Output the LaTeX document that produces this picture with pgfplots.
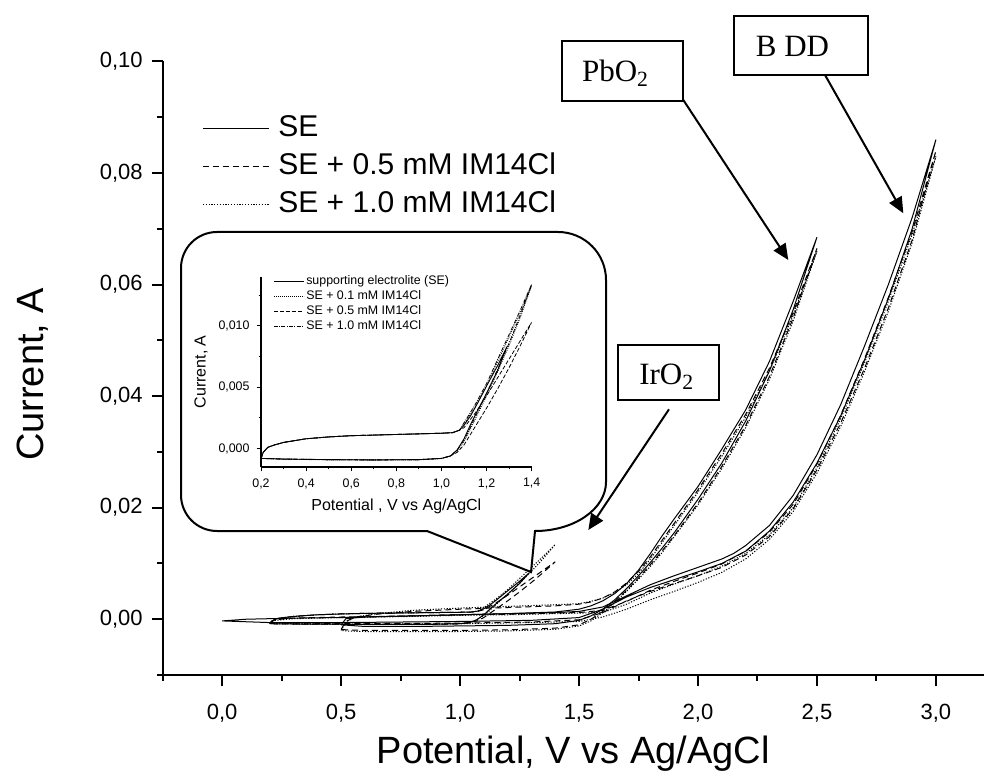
\documentclass[border=0pt]{standalone}
\usepackage{fontspec}
\setmainfont{Liberation Sans}
\newfontfamily\tnr{Liberation Serif}
\usepackage{pgfplots}
\pgfplotsset{compat=1.18}
\usepackage{pgfplotstable}
\usetikzlibrary{arrows.meta}

% IrO2 electrode
\pgfplotstableread{
x y
0.20 -0.0008
0.21 -0.0003
0.23 0.0001
0.26 0.0003
0.30 0.0005
0.40 0.0008
0.50 0.00095
0.60 0.00105
0.70 0.0011
0.80 0.00115
0.90 0.0012
1.00 0.00125
1.05 0.0013
1.08 0.0015
1.10 0.0019
1.13 0.0027
1.16 0.0037
1.20 0.0051
1.25 0.0068
1.29 0.0083
1.25 0.0064
1.20 0.0045
1.16 0.0031
1.13 0.0020
1.10 0.0008
1.07 -0.0001
1.04 -0.0006
1.00 -0.0008
0.90 -0.0009
0.70 -0.00092
0.50 -0.0009
0.30 -0.00085
0.20 -0.0008
}\irSE
\pgfplotstableread{
x y
0.20 -0.0008
0.21 -0.0003
0.23 0.0001
0.26 0.0003
0.30 0.0005
0.40 0.0008
0.50 0.00095
0.60 0.00105
0.70 0.0011
0.80 0.00115
0.90 0.0012
1.00 0.00125
1.05 0.0013
1.08 0.0015
1.10 0.0020
1.15 0.0034
1.20 0.0051
1.25 0.0071
1.30 0.0091
1.35 0.0111
1.40 0.0133
1.35 0.0107
1.30 0.0084
1.25 0.0063
1.20 0.0043
1.15 0.0024
1.12 0.0013
1.10 0.0006
1.07 -0.0002
1.04 -0.0006
1.00 -0.00082
0.90 -0.00092
0.70 -0.00094
0.50 -0.00092
0.30 -0.00087
0.20 -0.0008
}\irA
\pgfplotstableread{
x y
0.20 -0.0008
0.21 -0.0003
0.23 0.0001
0.26 0.0003
0.30 0.0005
0.40 0.0008
0.50 0.00095
0.60 0.00105
0.70 0.0011
0.80 0.00115
0.90 0.0012
1.00 0.00125
1.05 0.0013
1.08 0.0015
1.10 0.0017
1.15 0.0029
1.20 0.0043
1.25 0.0058
1.30 0.0073
1.35 0.0088
1.40 0.0103
1.35 0.0084
1.30 0.0066
1.25 0.0049
1.20 0.0033
1.15 0.0018
1.12 0.0009
1.10 0.0003
1.07 -0.0003
1.04 -0.0006
1.00 -0.0008
0.90 -0.0009
0.70 -0.00093
0.50 -0.0009
0.30 -0.00086
0.20 -0.0008
}\irB
\pgfplotstableread{
x y
0.20 -0.0008
0.21 -0.0003
0.23 0.0001
0.26 0.0003
0.30 0.0005
0.40 0.0008
0.50 0.00095
0.60 0.00105
0.70 0.0011
0.80 0.00115
0.90 0.0012
1.00 0.00125
1.05 0.0013
1.08 0.0015
1.10 0.0021
1.15 0.0036
1.20 0.0053
1.25 0.0073
1.30 0.0093
1.35 0.0113
1.40 0.0134
1.35 0.0109
1.30 0.0086
1.25 0.0065
1.20 0.0045
1.15 0.0026
1.12 0.0014
1.10 0.0007
1.07 -0.0001
1.04 -0.0006
1.00 -0.0008
0.90 -0.0009
0.70 -0.00092
0.50 -0.0009
0.30 -0.00085
0.20 -0.0008
}\irC

% PbO2 electrode
\pgfplotstableread{
x y
0.50 -0.0010
0.52 0.0001
0.60 0.0004
0.80 0.0006
1.00 0.0008
1.20 0.0010
1.40 0.0013
1.50 0.0018
1.55 0.0024
1.60 0.0033
1.65 0.0046
1.70 0.0064
1.75 0.0088
1.80 0.0118
1.85 0.0150
1.90 0.0180
2.00 0.0238
2.10 0.0305
2.20 0.0375
2.30 0.0462
2.40 0.0570
2.50 0.0685
2.40 0.0555
2.30 0.0445
2.20 0.0355
2.10 0.0280
2.00 0.0215
1.90 0.0155
1.85 0.0128
1.80 0.0102
1.75 0.0078
1.70 0.0055
1.65 0.0035
1.60 0.0018
1.55 0.0006
1.50 -0.0002
1.40 -0.0008
1.20 -0.0011
1.00 -0.0012
0.80 -0.0013
0.60 -0.0013
0.50 -0.0010
}\pbSE
\pgfplotstableread{
x y
0.50 -0.0018
0.52 -0.0004
0.56 0.0004
0.65 0.0009
0.80 0.0014
1.00 0.0018
1.20 0.0021
1.40 0.0024
1.50 0.0027
1.55 0.0031
1.60 0.0038
1.65 0.0049
1.70 0.0065
1.75 0.0086
1.80 0.0112
1.85 0.0142
1.90 0.0172
2.00 0.0232
2.10 0.0297
2.20 0.0367
2.30 0.0450
2.40 0.0550
2.50 0.0665
2.40 0.0540
2.30 0.0435
2.20 0.0347
2.10 0.0274
2.00 0.0208
1.90 0.0150
1.85 0.0123
1.80 0.0098
1.75 0.0074
1.70 0.0052
1.65 0.0032
1.60 0.0014
1.55 0.0000
1.50 -0.0010
1.40 -0.0016
1.20 -0.0019
1.00 -0.0020
0.80 -0.0020
0.60 -0.0020
0.52 -0.0019
0.50 -0.0018
}\pbB
\pgfplotstableread{
x y
0.50 -0.0020
0.52 -0.0005
0.56 0.0004
0.65 0.0010
0.80 0.0016
1.00 0.0020
1.20 0.0023
1.40 0.0026
1.50 0.0028
1.55 0.0032
1.60 0.0038
1.65 0.0048
1.70 0.0062
1.75 0.0082
1.80 0.0108
1.85 0.0138
1.90 0.0168
2.00 0.0228
2.10 0.0292
2.20 0.0362
2.30 0.0445
2.40 0.0545
2.50 0.0660
2.40 0.0535
2.30 0.0430
2.20 0.0343
2.10 0.0270
2.00 0.0205
1.90 0.0148
1.85 0.0120
1.80 0.0095
1.75 0.0072
1.70 0.0050
1.65 0.0030
1.60 0.0012
1.55 -0.0003
1.50 -0.0012
1.40 -0.0018
1.20 -0.0021
1.00 -0.0022
0.80 -0.0022
0.60 -0.0022
0.52 -0.0021
0.50 -0.0020
}\pbC

% BDD electrode
\pgfplotstableread{
x y
0.00 -0.0003
0.10 0.0000
0.30 0.0002
0.50 0.0003
0.80 0.0006
1.00 0.0008
1.20 0.0010
1.40 0.0012
1.50 0.0014
1.60 0.0022
1.70 0.0042
1.80 0.0062
1.90 0.0078
2.00 0.0093
2.10 0.0108
2.15 0.0118
2.20 0.0132
2.30 0.0168
2.40 0.0222
2.50 0.0295
2.60 0.0385
2.70 0.0490
2.80 0.0600
2.90 0.0720
3.00 0.0860
2.90 0.0700
2.80 0.0575
2.70 0.0465
2.60 0.0365
2.50 0.0280
2.40 0.0210
2.30 0.0158
2.20 0.0122
2.10 0.0100
2.00 0.0085
1.90 0.0071
1.80 0.0057
1.70 0.0040
1.60 0.0018
1.50 0.0003
1.30 -0.0002
1.00 -0.0004
0.50 -0.0006
0.20 -0.0006
0.00 -0.0003
}\bdSE
\pgfplotstableread{
x y
0.20 -0.0006
0.22 -0.0001
0.30 0.0002
0.50 0.0004
0.80 0.0006
1.00 0.0008
1.20 0.0009
1.40 0.0011
1.50 0.0012
1.60 0.0016
1.70 0.0032
1.80 0.0052
1.90 0.0068
2.00 0.0083
2.10 0.0099
2.20 0.0122
2.30 0.0156
2.40 0.0206
2.50 0.0278
2.60 0.0366
2.70 0.0467
2.80 0.0577
2.90 0.0695
3.00 0.0840
2.90 0.0680
2.80 0.0558
2.70 0.0450
2.60 0.0352
2.50 0.0268
2.40 0.0198
2.30 0.0148
2.20 0.0115
2.10 0.0093
2.00 0.0078
1.90 0.0064
1.80 0.0050
1.70 0.0033
1.60 0.0012
1.50 -0.0001
1.30 -0.0005
1.00 -0.0007
0.50 -0.0008
0.20 -0.0006
}\bdB
\pgfplotstableread{
x y
0.20 -0.0007
0.22 -0.0002
0.30 0.0001
0.50 0.0003
0.80 0.0005
1.00 0.0007
1.20 0.0008
1.40 0.0010
1.50 0.0011
1.60 0.0012
1.70 0.0027
1.80 0.0047
1.90 0.0063
2.00 0.0078
2.10 0.0095
2.20 0.0118
2.30 0.0151
2.40 0.0200
2.50 0.0272
2.60 0.0360
2.70 0.0460
2.80 0.0570
2.90 0.0690
3.00 0.0830
2.90 0.0675
2.80 0.0552
2.70 0.0444
2.60 0.0346
2.50 0.0262
2.40 0.0193
2.30 0.0143
2.20 0.0108
2.10 0.0084
2.00 0.0066
1.90 0.0050
1.80 0.0035
1.70 0.0018
1.60 0.0004
1.50 -0.0004
1.30 -0.0006
1.00 -0.0008
0.50 -0.0009
0.20 -0.0007
}\bdC

\begin{document}
\begin{tikzpicture}
\path[use as bounding box] (0pt,0pt) rectangle (494pt,388pt);
\begin{axis}[
  name=main, at={(81.35pt,50.5pt)}, anchor=south west,
  scale only axis, width=410.4pt, height=306.75pt,
  xmin=-0.25, xmax=3.2, ymin=-0.01, ymax=0.10,
  axis x line*=bottom, axis y line*=left,
  axis line style={line width=1pt, -},
  xtick={0,0.5,1.0,1.5,2.0,2.5,3.0},
  minor xtick={-0.25,0.25,0.75,1.25,1.75,2.25,2.75},
  ytick={0,0.02,0.04,0.06,0.08,0.1},
  minor ytick={-0.01,0.01,0.03,0.05,0.07,0.09},
  tick align=outside, major tick length=5.5pt, minor tick length=2.8pt,
  every tick/.style={black, line width=1pt},
  scaled y ticks=false, scaled x ticks=false,
  ticklabel style={font=\fontsize{11}{13}\selectfont},
  xticklabel style={yshift=-5.5pt, /pgf/number format/.cd, fixed, fixed zerofill, precision=1, use comma, assume math mode=true},
  yticklabel style={xshift=-1pt, /pgf/number format/.cd, fixed, fixed zerofill, precision=2, use comma, assume math mode=true},
  xlabel={Potential, V vs Ag/AgCl},
  ylabel={Current, A},
  label style={font=\fontsize{19}{22}\selectfont},
  xlabel style={at={(axis description cs:0.5,-0.1435)}, anchor=base},
  ylabel style={at={(axis description cs:-0.1458,0.49)}, anchor=base, rotate=0},
  legend cell align=left,
  legend image code/.code={\draw[#1] (0pt,0pt) -- (33pt,0pt);},
  legend style={at={(0.0479,0.9144)}, anchor=north west, draw=none, fill=none,
    inner sep=0pt, font=\fontsize{15}{18}\selectfont, row sep=5pt, column sep=4.5pt,
    nodes={inner sep=0pt, text height=11pt, text depth=3pt}},
]
\addplot[black, line width=0.5pt] table {\irSE};
\addlegendentry{SE}
\addplot[black, line width=0.5pt, dash pattern=on 3pt off 2pt] table {\irB};
\addlegendentry{SE + 0.5 mM IM14Cl}
\addplot[black, line width=0.5pt, dash pattern=on 0.6pt off 0.8pt] table {\irC};
\addlegendentry{SE + 1.0 mM IM14Cl}
\addplot[black, line width=0.5pt] table {\pbSE};
\addplot[black, line width=0.5pt, dash pattern=on 3pt off 2pt] table {\pbB};
\addplot[black, line width=0.5pt, dash pattern=on 0.6pt off 0.8pt] table {\pbC};
\addplot[black, line width=0.5pt] table {\bdSE};
\addplot[black, line width=0.5pt, dash pattern=on 3pt off 2pt] table {\bdB};
\addplot[black, line width=0.5pt, dash pattern=on 0.6pt off 0.8pt] table {\bdC};
\end{axis}

% callout around the inset
\draw[line width=1pt, fill=white]
  (90.5pt,188pt) -- (90.5pt,254pt)
  arc[start angle=180, end angle=90, radius=18pt] -- (279pt,272pt)
  arc[start angle=90, end angle=0, radius=24pt] -- (303pt,147pt)
  arc[start angle=0, end angle=-90, x radius=35.5pt, y radius=24.5pt]
  -- (265.5pt,102pt) -- (213.5pt,122.5pt) -- (108.5pt,122.5pt)
  arc[start angle=270, end angle=180, radius=18pt] -- cycle;

% labelled boxes and arrows
\draw[line width=1pt] (280.85pt,337.65pt) rectangle (341.65pt,367.65pt);
\node[anchor=base, inner sep=0pt, font=\tnr\fontsize{15.5}{18}\selectfont] at (307.75pt,347.15pt) {PbO\textsubscript{2}};
\draw[line width=1pt, -{Triangle[length=8pt,width=7pt]}] (341.65pt,338pt) -- (394.15pt,258pt);

\draw[line width=1pt] (367pt,350.5pt) rectangle (434.15pt,380.15pt);
\node[anchor=base, inner sep=0pt, font=\tnr\fontsize{15.5}{18}\selectfont] at (396.25pt,359.65pt) {B DD};
\draw[line width=1pt, -{Triangle[length=8pt,width=7pt]}] (412.5pt,350.5pt) -- (451.65pt,281.35pt);

\draw[line width=1pt] (309.15pt,188pt) rectangle (359.5pt,215.5pt);
\node[anchor=base, inner sep=0pt, font=\tnr\fontsize{15.5}{18}\selectfont] at (333.35pt,195.5pt) {IrO\textsubscript{2}};
\draw[line width=1pt, -{Triangle[length=8pt,width=7pt]}] (334.5pt,183.35pt) -- (294.15pt,123pt);

% inset
\begin{axis}[
  at={(130.5pt,154.5pt)}, anchor=south west,
  scale only axis, width=135.35pt, height=95.15pt,
  xmin=0.2, xmax=1.4, ymin=-0.0015, ymax=0.014,
  axis x line*=bottom, axis y line*=left,
  axis line style={line width=0.6pt, -},
  xtick={0.2,0.4,0.6,0.8,1.0,1.2,1.4},
  minor xtick={0.3,0.5,0.7,0.9,1.1,1.3},
  ytick={0,0.005,0.01},
  minor ytick={0.0025,0.0075,0.0125},
  tick align=outside, major tick length=2.2pt, minor tick length=1.2pt,
  every tick/.style={black, line width=0.5pt},
  scaled y ticks=false, scaled x ticks=false,
  ticklabel style={font=\fontsize{6.2}{7}\selectfont},
  xticklabel style={/pgf/number format/.cd, fixed, fixed zerofill, precision=1, use comma, assume math mode=true},
  yticklabel style={/pgf/number format/.cd, fixed, fixed zerofill, precision=3, use comma, assume math mode=true},
  xlabel={Potential , V vs Ag/AgCl},
  ylabel={Current, A},
  label style={font=\fontsize{8}{9}\selectfont},
  xlabel style={at={(axis description cs:0.5,-0.226)}, anchor=base},
  ylabel style={at={(axis description cs:-0.205,0.5)}, anchor=base, rotate=0},
  legend cell align=left,
  legend image code/.code={\draw[#1] (0pt,0pt) -- (15pt,0pt);},
  legend style={at={(0.0443,1.008)}, anchor=north west, draw=none, fill=none,
    inner sep=0pt, font=\fontsize{6.2}{7}\selectfont, row sep=1.5pt, column sep=1pt,
    nodes={inner sep=0pt, text height=4.6pt, text depth=1.4pt}},
]
\addplot[black, line width=0.45pt] table {\irSE};
\addlegendentry{supporting electrolite (SE)}
\addplot[black, line width=0.4pt, dash pattern=on 0.4pt off 0.6pt] table {\irA};
\addlegendentry{SE + 0.1 mM IM14Cl}
\addplot[black, line width=0.4pt, dash pattern=on 2pt off 1pt] table {\irB};
\addlegendentry{SE + 0.5 mM IM14Cl}
\addplot[black, line width=0.4pt, dash pattern=on 2pt off 0.7pt on 0.4pt off 0.7pt] table {\irC};
\addlegendentry{SE + 1.0 mM IM14Cl}
\end{axis}
\end{tikzpicture}
\end{document}
